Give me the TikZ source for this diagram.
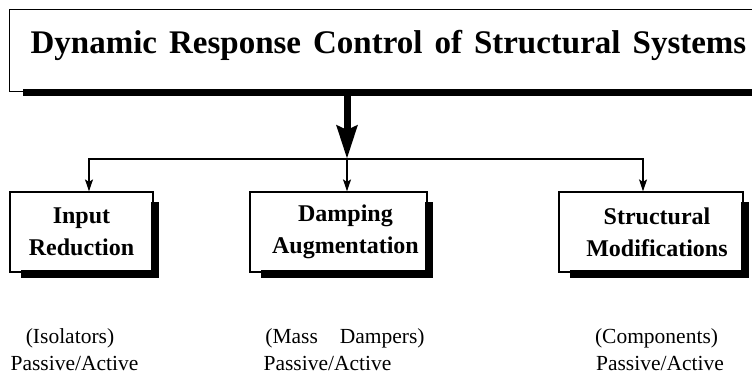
\documentclass[tikz,border=0pt]{standalone}
\usepackage{fontspec}
\setmainfont{Liberation Serif}
\usetikzlibrary{arrows.meta,calc}

\tikzset{
    box/.style={draw, rectangle, line width=1.2pt, inner sep=0pt, minimum height=80pt,
        align=center, font=\bfseries\fontsize{24}{32}\selectfont},
    shadowbar/.style={line width=8pt, line join=miter},
    branch/.style={line width=1.2pt, -{Stealth[length=12pt,width=8pt,inset=2.5pt]}},
    note/.style={anchor=base, font=\fontsize{21.5}{26}\selectfont},
}

\begin{document}
\begin{tikzpicture}[x=1pt,y=-1pt]
    \path[use as bounding box] (0,0) rectangle (752,375);
    \clip (0,0) rectangle (752,375);

    % === TITRE ===
    \node[draw, line width=1.3pt, inner sep=0pt, minimum width=770pt, minimum height=82pt,
        anchor=north west] (titlebox) at (9,9) {};
    \node[anchor=base, font=\bfseries\fontsize{33}{40}\selectfont] (title) at (388.5,53)
        {\spaceskip=12pt Dynamic Response Control of Structural Systems};
    \draw[line width=7pt] ([xshift=14pt,yshift=-0.5pt]titlebox.south west) -- ([yshift=-0.5pt]titlebox.south east);

    % === BOITES ===
    \node[box, minimum width=143pt] (input) at (81.5,232) {Input\\Reduction};
    \node[box, minimum width=177pt] (damp) at (338.5,232)
        {\hspace*{14pt}Damping\\\hspace*{14pt}Augmentation};
    \node[box, minimum width=184pt] (modif) at (651,232)
        {\hspace*{12pt}Structural\\\hspace*{12pt}Modifications};

    % Ombres
    \foreach \b in {input,damp,modif} {
        \draw[shadowbar] ([xshift=1pt,yshift=-11pt]\b.north east) -- ([xshift=1pt,yshift=-1pt]\b.south east)
            -- ([xshift=12pt,yshift=-1pt]\b.south west);
    }

    % === FLECHES ===
    \coordinate (fork) at (347,159);
    \draw[line width=7pt, -{Stealth[length=33pt,width=20pt,inset=4pt]}] (titlebox.south -| fork) -- (fork);
    \draw[branch] (fork) -| ([xshift=7.5pt]input.north);
    \draw[branch] (fork) -- (fork |- damp.north);
    \draw[branch] (fork) -| ([xshift=-8pt]modif.north);

    % === LEGENDES ===
    \node[note] (iso) at (70,343) {(Isolators)};
    \node[note] (pa1) at (74.5,370) {Passive/Active};
    \node[note] (mass) at (345,343) {(Mass\hspace{22pt}Dampers)};
    \node[note] (pa2) at (327.5,370) {Passive/Active};
    \node[note] (comp) at (656.5,343) {(Components)};
    \node[note] (pa3) at (660,370) {Passive/Active};
\end{tikzpicture}
\end{document}
